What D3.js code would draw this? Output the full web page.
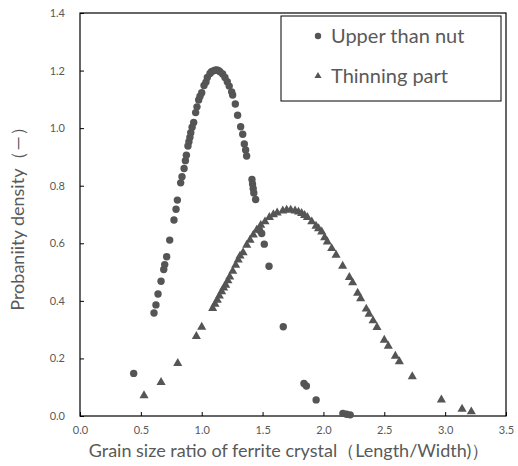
<!DOCTYPE html>
<html><head><meta charset="utf-8">
<script src="https://cdn.jsdelivr.net/npm/d3@7"></script>
<style>body{margin:0;background:#fff;}svg{display:block;}</style>
</head><body>
<svg id="c" width="518" height="466"></svg>
<script>
const xTicks = [0, 0.5, 1.0, 1.5, 2.0, 2.5, 3.0, 3.5];
const yTicks = [0, 0.2, 0.4, 0.6, 0.8, 1.0, 1.2, 1.4];
const seriesNames = ["Upper than nut", "Thinning part"];
const upperX = [0.441,0.608,0.624,0.641,0.666,0.688,0.696,0.712,0.737,0.772,0.789,0.800,0.827,0.838,0.855,0.866,0.874,0.887,0.895,0.903,0.910,0.921,0.934,0.950,0.961,0.975,0.986,1.000,1.019,1.035,1.046,1.068,1.080,1.095,1.110,1.123,1.137,1.150,1.172,1.191,1.210,1.226,1.246,1.254,1.276,1.295,1.320,1.337,1.350,1.361,1.369,1.413,1.418,1.423,1.428,1.443,1.475,1.493,1.514,1.553,1.67,1.84,1.86,1.94,2.16,2.19,2.22];
const upperY = [0.148,0.358,0.386,0.424,0.468,0.509,0.526,0.553,0.611,0.681,0.718,0.750,0.810,0.831,0.860,0.887,0.906,0.938,0.953,0.968,0.984,1.003,1.020,1.054,1.074,1.098,1.111,1.123,1.148,1.160,1.176,1.190,1.196,1.199,1.201,1.202,1.200,1.196,1.188,1.176,1.161,1.146,1.126,1.115,1.084,1.045,1.005,0.979,0.945,0.924,0.903,0.822,0.806,0.790,0.775,0.752,0.645,0.634,0.597,0.520,0.31,0.113,0.104,0.056,0.009,0.006,0.004];
const thinX = [0.526,0.666,0.803,0.956,1.000,1.090,1.109,1.128,1.145,1.164,1.180,1.197,1.215,1.230,1.255,1.279,1.300,1.315,1.340,1.370,1.397,1.424,1.452,1.485,1.520,1.556,1.589,1.620,1.666,1.698,1.731,1.767,1.795,1.821,1.845,1.868,1.904,1.939,1.960,1.986,2.010,2.032,2.068,2.104,2.158,2.213,2.240,2.281,2.306,2.352,2.375,2.408,2.440,2.500,2.533,2.591,2.624,2.730,2.969,3.139,3.215];
const thinY = [0.071,0.117,0.183,0.277,0.309,0.374,0.389,0.403,0.417,0.432,0.445,0.455,0.470,0.483,0.503,0.524,0.542,0.556,0.568,0.594,0.611,0.629,0.646,0.663,0.675,0.690,0.700,0.706,0.713,0.716,0.716,0.713,0.709,0.704,0.697,0.690,0.675,0.660,0.651,0.640,0.620,0.605,0.582,0.559,0.521,0.482,0.463,0.427,0.408,0.372,0.354,0.331,0.308,0.264,0.243,0.208,0.189,0.137,0.056,0.024,0.015];

const svg = d3.select("#c");
const L = 80, R = 506, T = 13, B = 416;
const x = d3.scaleLinear().domain([0, 3.5]).range([L, R]);
const y = d3.scaleLinear().domain([0, 1.4]).range([B, T]);
const txt = "#595959", mk = "#555555";
const font = "Lato, 'Open Sans', sans-serif";

svg.append("rect").attr("x", L).attr("y", T).attr("width", R - L).attr("height", B - T)
  .attr("fill", "none").attr("stroke", "#000").attr("stroke-width", 1.2);

const xa = svg.append("g").attr("transform", `translate(0,${B})`)
  .call(d3.axisBottom(x).tickValues(xTicks).tickSizeInner(-4).tickSizeOuter(0).tickPadding(10).tickFormat(d3.format(".1f")));
const ya = svg.append("g").attr("transform", `translate(${L},0)`)
  .call(d3.axisLeft(y).tickValues(yTicks).tickSizeInner(-4).tickSizeOuter(0).tickPadding(15).tickFormat(d3.format(".1f")));
[xa, ya].forEach(g => {
  g.select(".domain").remove();
  g.selectAll("line").attr("stroke", "#000");
  g.selectAll("text").attr("fill", txt).style("font-family", font).style("font-size", "11px");
});

svg.append("g").selectAll("circle").data(upperX.map((v, i) => [v, upperY[i]])).join("circle")
  .attr("cx", d => x(d[0])).attr("cy", d => y(d[1])).attr("r", 3.7).attr("fill", mk);
const tri = d3.symbol().type(d3.symbolTriangle).size(36);
svg.append("g").selectAll("path").data(thinX.map((v, i) => [v, thinY[i]])).join("path")
  .attr("d", tri).attr("transform", d => `translate(${x(d[0])},${y(d[1])})`).attr("fill", mk);

svg.append("text").attr("x", 289).attr("y", 457).attr("text-anchor", "middle")
  .attr("fill", txt).style("font-family", font).style("font-size", "18px")
  .text("Grain size ratio of ferrite crystal（Length/Width)）");
svg.append("text").attr("transform", `translate(24,${(T + B) / 2}) rotate(-90)`).attr("text-anchor", "middle")
  .attr("fill", txt).style("font-family", font).style("font-size", "18px")
  .text("Probaniity density（—）");

const lg = svg.append("g");
lg.append("rect").attr("x", 281).attr("y", 16).attr("width", 220).attr("height", 85)
  .attr("fill", "#fff").attr("stroke", "#000").attr("stroke-width", 1);
lg.append("circle").attr("cx", 318).attr("cy", 36).attr("r", 3.2).attr("fill", mk);
lg.append("path").attr("d", d3.symbol().type(d3.symbolTriangle).size(22)).attr("transform", "translate(318,76)").attr("fill", mk);
lg.append("text").attr("x", 331).attr("y", 43).attr("fill", txt).style("font-family", font).style("font-size", "20px").text(seriesNames[0]);
lg.append("text").attr("x", 331).attr("y", 83).attr("fill", txt).style("font-family", font).style("font-size", "20px").text(seriesNames[1]);
</script>
</body></html>
